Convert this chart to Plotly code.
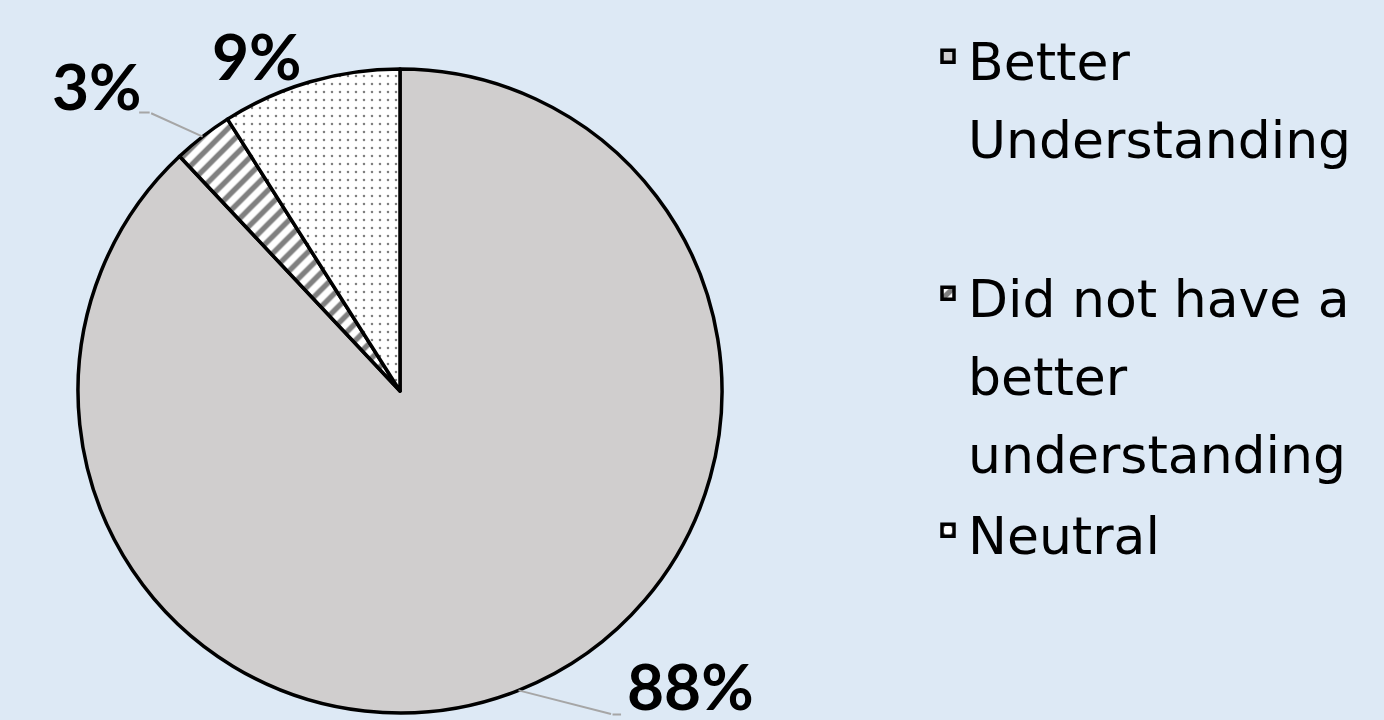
import math
import plotly.graph_objects as go

# ---- data ----
categories = ["Better<br>Understanding<br> ", "Did not have a<br>better<br>understanding", "Neutral"]
values = [88, 3, 9]
fill_colors = ["#D0CECE", "#FFFFFF", "#FFFFFF"]
pattern_shapes = ["", "/", "."]

W, H = 1384, 720
BG = "#DDE9F5"

# pie geometry (pixels)
CX, CY, R = 400, 391, 322

fig = go.Figure()
fig.add_trace(go.Pie(
    labels=[f'<span style="font-size:52px">{c}</span>' for c in categories],
    values=values,
    sort=False,
    direction="clockwise",
    rotation=0,
    textinfo="none",
    hoverinfo="label+percent",
    marker=dict(
        colors=fill_colors,
        line=dict(color="#000000", width=3.5),
        pattern=dict(
            shape=pattern_shapes,
            fgcolor=["#808080", "#808080", "#808080"],
            bgcolor=fill_colors,
            size=[10, 12, 8],
            solidity=[0.3, 0.45, 0.08],
            fillmode="replace",
        ),
    ),
    domain=dict(x=[(CX - R) / W, (CX + R) / W], y=[1 - (CY + R) / H, 1 - (CY - R) / H]),
    showlegend=True,
))

# label placement: offsets (pixels) of label centre / leader tail from slice mid-edge
label_offsets = [(172, -5), (-106, -51), (-53, -26)]
leader_tails = [(94, 24), (-53, -24), None]
elbow = [(10, 0), (-12, 0), None]

total = sum(values)
cum = 0
annotations = []
for i, v in enumerate(values):
    mid = 2 * math.pi * (cum + v / 2) / total
    cum += v
    ex = CX + R * math.sin(mid)
    ey = CY - R * math.cos(mid)
    pct = f"{v / total * 100:.0f}%"
    ox, oy = label_offsets[i]
    annotations.append(dict(
        x=(ex + ox) / W, y=1 - (ey + oy) / H, xref="paper", yref="paper",
        text=f"<b>{pct}</b>", showarrow=False, xanchor="center", yanchor="middle",
        font=dict(family="Lato", size=64, color="#000000"),
    ))
    if leader_tails[i] is not None:
        tx, ty = leader_tails[i]
        annotations.append(dict(
            x=ex / W, y=1 - ey / H, xref="paper", yref="paper",
            ax=tx, ay=ty, text="", showarrow=True, arrowhead=0,
            arrowwidth=2, arrowcolor="#A6A6A6", standoff=0, startstandoff=0,
        ))
        bx, by = elbow[i]
        annotations.append(dict(
            x=(ex + tx) / W, y=1 - (ey + ty) / H, xref="paper", yref="paper",
            ax=bx, ay=by, text="", showarrow=True, arrowhead=0,
            arrowwidth=2, arrowcolor="#A6A6A6", standoff=0, startstandoff=0,
        ))

fig.update_layout(
    width=W, height=H,
    margin=dict(l=0, r=0, t=0, b=0),
    paper_bgcolor=BG,
    plot_bgcolor=BG,
    annotations=annotations,
    legend=dict(
        x=(968 - 40) / W, y=0.985, xanchor="left", yanchor="top",
        font=dict(family="DejaVu Sans", size=60, color="#000000"),
        bgcolor="rgba(0,0,0,0)",
        valign="top",
        tracegroupgap=0,
    ),
)

fig.write_html("out.html", config={"displayModeBar": False},
               post_script="document.body.style.margin='0px';")
